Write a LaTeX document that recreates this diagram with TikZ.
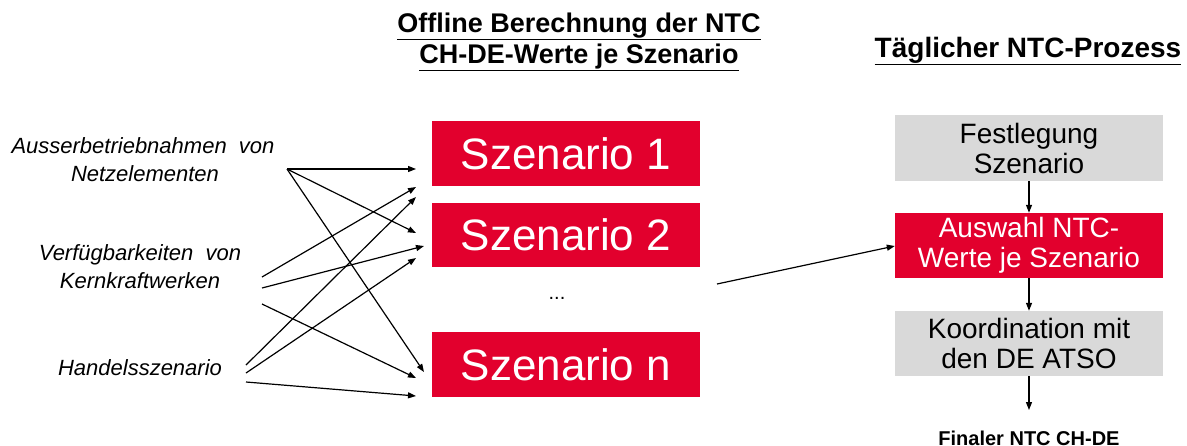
\documentclass[tikz,border=0pt]{standalone}
\usepackage{fontspec}
\setmainfont{Liberation Sans}
\usetikzlibrary{arrows.meta}
\definecolor{ntcred}{RGB}{226,0,45}
\definecolor{ntcgray}{RGB}{217,217,217}
\tikzset{
  redbox/.style={fill=ntcred, text=white, minimum width=268pt, inner sep=0pt, align=center},
  graybox/.style={fill=ntcgray, text=black, minimum width=268pt, inner sep=0pt, align=center},
  bigtext/.style={font=\fontsize{44}{48}\selectfont},
  boxtext/.style={font=\fontsize{28}{30}\selectfont},
  lbl/.style={font=\itshape\fontsize{22}{28}\selectfont, align=center, inner sep=0pt},
  ttl/.style={font=\bfseries\fontsize{27}{31}\selectfont, align=center, inner sep=0pt},
  arr/.style={-{Triangle[length=8pt,width=6pt]}, line width=1.2pt, black},
}
\begin{document}
\begin{tikzpicture}[x=1pt,y=-1pt]
\useasboundingbox (0,0) rectangle (1187,445);
% titles
\node[ttl, anchor=base] (t1) at (579,32) {\underline{Offline Berechnung der NTC}};
\node[ttl, anchor=base] (t2) at (579,63) {\underline{CH-DE-Werte je Szenario}};
\node[ttl, anchor=base, font=\bfseries\fontsize{28}{31}\selectfont] (t3) at (1028,57) {\underline{Täglicher NTC-Prozess}};
% left labels
\node[lbl, anchor=base] (l1a) at (143,153) {Ausserbetriebnahmen\ \ von};
\node[lbl, anchor=base] (l1b) at (145,181) {Netzelementen};
\node[lbl, anchor=base] (l2a) at (140,260) {Verfügbarkeiten\ \ von};
\node[lbl, anchor=base] (l2b) at (140,288) {Kernkraftwerken};
\node[lbl, anchor=base] (l3) at (140,375) {Handelsszenario};
% scenario boxes
\node[redbox, bigtext, minimum height=65pt] (s1) at (566,153.5) {Szenario 1};
\node[redbox, bigtext, minimum height=64pt] (s2) at (566,235) {Szenario 2};
\node[redbox, bigtext, minimum height=65pt] (sn) at (566,364.5) {Szenario n};
\node[font=\fontsize{20}{22}\selectfont] (dots) at (557,298) {...};
% right column
\node[graybox, boxtext, minimum height=66pt] (fest) at (1029,148) {Festlegung\\Szenario};
\node[redbox, boxtext, minimum height=65pt] (ausw) at (1029,245.5) {Auswahl NTC-\\Werte je Szenario};
\node[graybox, boxtext, minimum height=65pt] (koord) at (1029,343.5) {Koordination mit\\den DE ATSO};
\node[font=\bfseries\fontsize{20}{22}\selectfont, anchor=base, inner sep=0pt] (fin) at (1029,445) {Finaler NTC CH-DE};
% arrow endpoints
\coordinate (A) at (287,169);
\coordinate (K1) at (262,277);
\coordinate (K2) at (262,288);
\coordinate (K3) at (262,304);
\coordinate (H1) at (246,365);
\coordinate (H2) at (246,373);
\coordinate (H3) at (246,382);
\coordinate (a1) at (416,169);
\coordinate (a2) at (416,233);
\coordinate (a3) at (424,372);
\coordinate (k1) at (416,187);
\coordinate (k2) at (424,246);
\coordinate (k3) at (416,378);
\coordinate (h1) at (416,197);
\coordinate (h2) at (416,258);
\coordinate (h3) at (416,396);
\coordinate (mid) at (717,284);
\coordinate (end) at (1029,410);
% left arrows
\draw[arr] (A) -- (a1);
\draw[arr] (A) -- (a2);
\draw[arr] (A) -- (a3);
\draw[arr] (K1) -- (k1);
\draw[arr] (K2) -- (k2);
\draw[arr] (K3) -- (k3);
\draw[arr] (H1) -- (h1);
\draw[arr] (H2) -- (h2);
\draw[arr] (H3) -- (h3);
% right arrows
\draw[arr] (mid) -- (ausw.west |- 0,246);
\draw[arr] (fest.south) -- (ausw.north);
\draw[arr] (ausw.south) -- (koord.north);
\draw[arr] (koord.south) -- (end);
\end{tikzpicture}
\end{document}
